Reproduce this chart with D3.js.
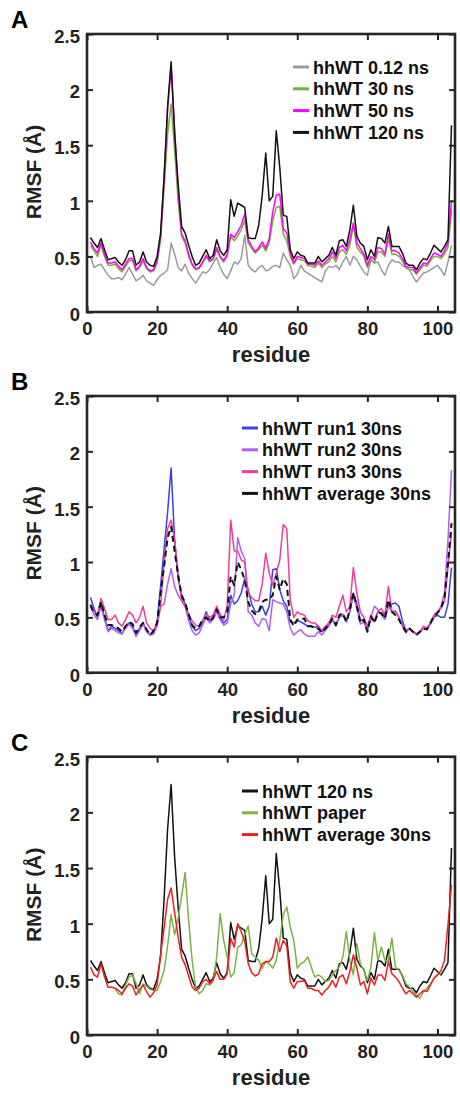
<!DOCTYPE html>
<html><head><meta charset="utf-8">
<script src="https://cdn.jsdelivr.net/npm/d3@7"></script>
<style>html,body{margin:0;padding:0;background:#fff;}svg{display:block;}</style>
</head><body>
<script>
// ---------- DATA (residues 1..104) ----------
const residues = d3.range(1, 105);
const xTicks = [0, 20, 40, 60, 80, 100];
const yTicks = [0, 0.5, 1, 1.5, 2, 2.5];

const wt012 = [0.50,0.40,0.42,0.43,0.38,0.33,0.30,0.30,0.31,0.29,0.34,0.40,0.34,0.28,0.30,0.33,0.28,0.26,0.24,0.29,
0.33,0.35,0.38,0.62,0.52,0.40,0.37,0.43,0.35,0.30,0.26,0.31,0.36,0.35,0.38,0.44,0.49,0.40,0.34,0.30,
0.37,0.45,0.43,0.48,0.69,0.42,0.38,0.36,0.40,0.42,0.37,0.38,0.41,0.42,0.40,0.53,0.47,0.42,0.30,0.34,
0.42,0.37,0.35,0.33,0.31,0.29,0.27,0.37,0.41,0.40,0.42,0.38,0.45,0.50,0.42,0.50,0.47,0.41,0.36,0.33,
0.47,0.44,0.45,0.38,0.33,0.42,0.47,0.45,0.45,0.42,0.40,0.38,0.32,0.27,0.31,0.35,0.36,0.38,0.40,0.42,
0.38,0.33,0.45,0.60];
const wt30 = [0.60,0.55,0.50,0.60,0.50,0.42,0.42,0.43,0.39,0.36,0.41,0.46,0.46,0.37,0.40,0.46,0.39,0.36,0.37,0.44,
0.65,1.10,1.60,1.87,1.45,1.00,0.68,0.62,0.50,0.42,0.38,0.39,0.44,0.50,0.45,0.47,0.56,0.49,0.45,0.50,
0.68,0.64,0.68,0.74,0.82,0.62,0.57,0.53,0.56,0.60,0.55,0.62,0.82,0.94,0.95,0.70,0.64,0.50,0.43,0.48,
0.47,0.46,0.42,0.41,0.40,0.44,0.40,0.43,0.45,0.50,0.45,0.54,0.56,0.52,0.60,0.78,0.58,0.54,0.50,0.40,
0.47,0.44,0.54,0.54,0.50,0.66,0.52,0.52,0.50,0.46,0.40,0.38,0.38,0.34,0.38,0.42,0.41,0.46,0.50,0.50,
0.48,0.52,0.58,0.92];
const wt50 = [0.63,0.57,0.53,0.62,0.52,0.44,0.44,0.45,0.41,0.38,0.43,0.48,0.48,0.38,0.41,0.48,0.40,0.37,0.38,0.46,
0.68,1.20,1.82,2.20,1.65,1.10,0.70,0.64,0.52,0.43,0.39,0.40,0.45,0.51,0.46,0.48,0.58,0.50,0.46,0.52,
0.70,0.67,0.72,0.78,0.88,0.65,0.59,0.54,0.58,0.63,0.57,0.66,0.90,1.05,1.06,0.75,0.71,0.53,0.44,0.50,
0.49,0.48,0.43,0.43,0.42,0.46,0.42,0.45,0.48,0.54,0.48,0.58,0.60,0.55,0.65,0.80,0.62,0.57,0.52,0.42,
0.50,0.47,0.58,0.57,0.52,0.70,0.55,0.55,0.53,0.48,0.41,0.40,0.40,0.35,0.40,0.44,0.43,0.48,0.53,0.52,
0.50,0.55,0.62,1.00];
const wt120 = [0.67,0.62,0.58,0.66,0.56,0.47,0.48,0.49,0.45,0.42,0.47,0.55,0.55,0.42,0.45,0.54,0.45,0.42,0.41,0.50,
0.71,1.22,1.85,2.25,1.60,1.15,0.77,0.71,0.60,0.50,0.42,0.44,0.50,0.56,0.48,0.51,0.65,0.55,0.51,0.56,
1.01,0.86,0.98,0.96,0.94,0.67,0.66,0.66,0.78,1.05,1.43,1.00,1.04,1.63,1.30,0.87,0.86,0.56,0.48,0.54,
0.51,0.50,0.44,0.44,0.44,0.50,0.45,0.48,0.51,0.58,0.51,0.64,0.65,0.59,0.74,0.96,0.68,0.62,0.59,0.47,
0.56,0.50,0.67,0.66,0.62,0.77,0.59,0.59,0.59,0.53,0.44,0.42,0.42,0.38,0.44,0.48,0.47,0.53,0.60,0.57,
0.54,0.59,0.65,1.68];

const run1 = [0.68,0.58,0.50,0.63,0.50,0.38,0.42,0.40,0.38,0.35,0.42,0.45,0.42,0.33,0.40,0.45,0.38,0.34,0.36,0.46,
0.78,1.12,1.45,1.85,1.20,0.85,0.70,0.62,0.52,0.42,0.38,0.40,0.46,0.55,0.47,0.50,0.58,0.50,0.45,0.48,
0.70,0.62,0.65,0.72,0.85,0.75,0.62,0.55,0.55,0.60,0.52,0.60,0.93,0.94,0.75,0.65,0.60,0.46,0.45,0.47,
0.46,0.44,0.42,0.42,0.41,0.42,0.37,0.40,0.43,0.48,0.44,0.50,0.52,0.46,0.55,0.72,0.62,0.47,0.48,0.38,
0.50,0.46,0.55,0.54,0.49,0.62,0.62,0.63,0.60,0.47,0.38,0.40,0.37,0.35,0.37,0.40,0.40,0.44,0.50,0.52,
0.50,0.50,0.62,0.95];
const run2 = [0.60,0.52,0.48,0.60,0.48,0.37,0.40,0.38,0.36,0.35,0.40,0.44,0.40,0.33,0.38,0.44,0.37,0.34,0.35,0.42,
0.60,0.62,0.80,0.94,0.78,0.70,0.65,0.60,0.47,0.38,0.34,0.36,0.43,0.50,0.45,0.48,0.55,0.48,0.43,0.45,
0.62,0.70,1.22,1.10,1.03,0.55,0.52,0.45,0.42,0.49,0.48,0.38,0.66,0.64,0.63,0.62,0.55,0.40,0.34,0.37,
0.39,0.35,0.33,0.33,0.33,0.37,0.34,0.38,0.42,0.48,0.42,0.50,0.53,0.46,0.56,0.70,0.58,0.44,0.46,0.37,
0.50,0.60,0.57,0.52,0.48,0.60,0.55,0.56,0.50,0.43,0.36,0.40,0.37,0.34,0.37,0.40,0.39,0.45,0.51,0.55,
0.60,0.72,1.20,1.83];
const run3 = [0.62,0.55,0.52,0.67,0.58,0.48,0.48,0.52,0.45,0.42,0.48,0.55,0.52,0.45,0.50,0.60,0.45,0.40,0.38,0.45,
0.60,1.00,1.30,1.38,1.20,0.90,0.65,0.60,0.52,0.47,0.43,0.42,0.47,0.53,0.50,0.52,0.60,0.53,0.48,0.60,
1.38,1.10,1.10,1.02,1.00,0.72,0.68,0.65,0.65,0.80,1.08,0.90,0.79,0.90,1.02,1.34,1.30,0.66,0.50,0.55,
0.53,0.52,0.47,0.45,0.45,0.42,0.38,0.42,0.45,0.52,0.50,0.60,0.70,0.55,0.60,0.95,0.72,0.55,0.50,0.42,
0.52,0.47,0.55,0.58,0.52,0.78,0.55,0.55,0.50,0.42,0.37,0.40,0.37,0.35,0.37,0.42,0.40,0.45,0.52,0.55,
0.58,0.65,0.95,1.27];
const avg30 = [0.61,0.54,0.52,0.64,0.52,0.43,0.43,0.42,0.40,0.37,0.42,0.46,0.44,0.36,0.41,0.45,0.39,0.34,0.38,0.45,
0.72,0.96,1.22,1.32,1.10,0.88,0.70,0.63,0.53,0.43,0.40,0.42,0.48,0.50,0.46,0.50,0.57,0.50,0.50,0.55,
0.87,0.79,1.00,0.93,0.84,0.64,0.56,0.53,0.55,0.64,0.66,0.66,0.70,0.87,0.75,0.85,0.80,0.48,0.42,0.48,
0.48,0.49,0.42,0.42,0.40,0.40,0.36,0.40,0.43,0.49,0.43,0.52,0.54,0.46,0.57,0.72,0.60,0.45,0.48,0.37,
0.51,0.45,0.54,0.54,0.49,0.66,0.55,0.52,0.48,0.42,0.37,0.40,0.37,0.34,0.37,0.40,0.39,0.45,0.51,0.54,
0.58,0.67,0.99,1.35];
const paper = [null,null,null,null,null,null,null,0.42,0.37,0.36,0.45,0.52,0.54,0.46,0.37,0.46,0.44,0.41,0.40,0.40,
0.48,0.58,0.80,1.08,0.90,1.05,1.25,1.46,1.03,0.67,0.43,0.37,0.40,0.46,0.45,0.48,0.70,1.09,0.85,0.70,
0.52,0.56,0.79,0.81,0.90,0.98,0.73,0.70,0.67,0.60,0.66,0.64,0.60,0.67,0.85,1.08,1.15,0.97,0.85,0.60,
0.64,0.66,0.70,0.61,0.52,0.54,0.52,0.48,0.49,0.54,0.58,0.61,0.70,0.93,0.67,0.54,0.82,0.64,0.58,0.49,
0.61,0.92,0.67,0.79,0.67,0.67,0.87,0.61,0.58,0.54,0.46,0.43,0.39,0.36,0.33,0.39,0.42,0.46,0.51,0.54,
0.55,null,null,null];

// ---------- PANELS ----------
const panels = [
  { letter: "A", top: 34, bottom: 312, legendX: 293, legendY: 67,
    series: [
      { name: "hhWT 0.12 ns", values: wt012, color: "#9b9b9b" },
      { name: "hhWT 30 ns", values: wt30, color: "#7aaf35" },
      { name: "hhWT 50 ns", values: wt50, color: "#ff00ff" },
      { name: "hhWT 120 ns", values: wt120, color: "#111111" } ] },
  { letter: "B", top: 396, bottom: 672.7, legendX: 242, legendY: 428,
    series: [
      { name: "hhWT run1 30ns", values: run1, color: "#3c3cf2" },
      { name: "hhWT run2 30ns", values: run2, color: "#b35ef0" },
      { name: "hhWT run3 30ns", values: run3, color: "#f03c9c" },
      { name: "hhWT average 30ns", values: avg30, color: "#111111", dash: "6,4", width: 2 } ] },
  { letter: "C", top: 756.7, bottom: 1035, legendX: 242, legendY: 791,
    series: [
      { name: "hhWT 120 ns", values: wt120, color: "#111111" },
      { name: "hhWT paper", values: paper, color: "#7cb342" },
      { name: "hhWT average 30ns", values: avg30, color: "#f01e1e" } ] }
];

const W = 460, H = 1095;
const svg = d3.select("body").append("svg").attr("width", W).attr("height", H)
  .style("font-family", "'Liberation Sans', Arial, Helvetica, sans-serif");

const x = d3.scaleLinear().domain([0, 105]).range([87, 455]);

panels.forEach(p => {
  const y = d3.scaleLinear().domain([0, 2.5]).range([p.bottom, p.top]);
  const g = svg.append("g");

  // panel letter
  g.append("text").attr("x", 11).attr("y", p.top - 6)
    .attr("font-size", 24).attr("font-weight", "bold").attr("fill", "#000").text(p.letter);

  // data lines (clipped)
  const clipId = "clip" + p.letter;
  svg.append("clipPath").attr("id", clipId).append("rect")
    .attr("x", x(0)).attr("y", p.top).attr("width", x(105) - x(0)).attr("height", p.bottom - p.top);
  const line = d3.line().defined(d => d[1] != null).x(d => x(d[0])).y(d => y(d[1]));
  const lg = g.append("g").attr("clip-path", `url(#${clipId})`);
  p.series.forEach(s => {
    lg.append("path").datum(residues.map((r, i) => [r, s.values[i]]))
      .attr("d", line).attr("fill", "none").attr("stroke", s.color)
      .attr("stroke-width", s.width || 1.5).attr("stroke-linejoin", "round")
      .attr("stroke-dasharray", s.dash || null);
  });

  // axes
  const fmt = d => String(d);
  const axB = g.append("g").attr("transform", `translate(0,${p.bottom})`)
    .call(d3.axisBottom(x).tickValues(xTicks).tickFormat(fmt).tickSize(-6).tickPadding(10));
  const axT = g.append("g").attr("transform", `translate(0,${p.top})`)
    .call(d3.axisTop(x).tickValues(xTicks).tickFormat("").tickSize(-6));
  const axL = g.append("g").attr("transform", `translate(${x(0)},0)`)
    .call(d3.axisLeft(y).tickValues(yTicks).tickFormat(fmt).tickSize(-6).tickPadding(7));
  const axR = g.append("g").attr("transform", `translate(${x(105)},0)`)
    .call(d3.axisRight(y).tickValues(yTicks).tickFormat("").tickSize(-6));
  [axB, axT, axL, axR].forEach(a => {
    a.select(".domain").remove();
    a.selectAll(".tick line").attr("stroke", "#262626").attr("stroke-width", 2);
    a.selectAll(".tick text").attr("font-size", 18.5).attr("font-weight", "bold")
      .attr("fill", "#222").style("font-family", "'Liberation Sans', Arial, sans-serif");
  });
  axL.selectAll(".tick text").attr("dy", "0.45em");

  // frame
  g.append("rect").attr("x", x(0)).attr("y", p.top)
    .attr("width", x(105) - x(0)).attr("height", p.bottom - p.top)
    .attr("fill", "none").attr("stroke", "#262626").attr("stroke-width", 2.6);

  // axis labels
  g.append("text").attr("x", (x(0) + x(105)) / 2).attr("y", p.bottom + 50)
    .attr("text-anchor", "middle").attr("font-size", 22).attr("font-weight", "bold")
    .attr("fill", "#222").text("residue");
  g.append("text")
    .attr("transform", `translate(41,${(p.top + p.bottom) / 2 - 1}) rotate(-90)`)
    .attr("text-anchor", "middle").attr("font-size", 21).attr("font-weight", "bold")
    .attr("fill", "#222").text("RMSF (Å)");

  // legend
  const leg = g.append("g");
  p.series.forEach((s, i) => {
    const cy = p.legendY + i * 21.8;
    leg.append("line").attr("x1", p.legendX).attr("x2", p.legendX + 16)
      .attr("y1", cy).attr("y2", cy).attr("stroke", s.color).attr("stroke-width", 3);
    leg.append("text").attr("x", p.legendX + 20).attr("y", cy + 6.5)
      .attr("font-size", 18).attr("font-weight", "bold").attr("fill", "#111").text(s.name);
  });
});
</script>
</body></html>
